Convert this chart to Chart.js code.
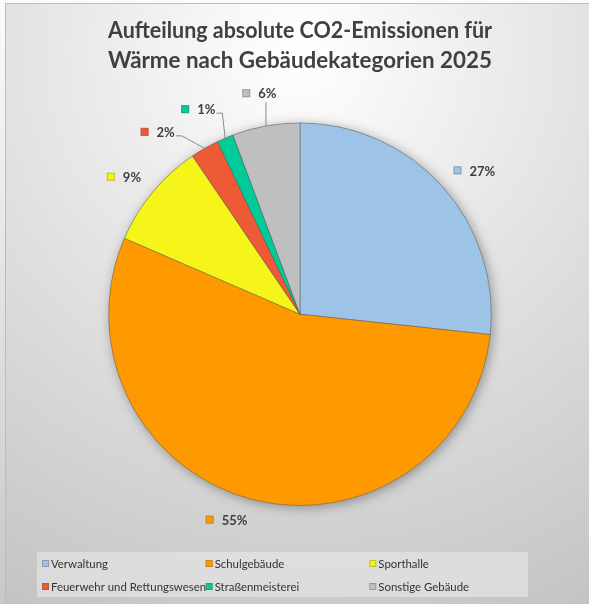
<!DOCTYPE html>
<html>
<head>
<meta charset="utf-8">
<script src="https://cdn.jsdelivr.net/npm/chart.js@4"></script>
<style>
  html, body { margin: 0; padding: 0; background: #fff; }
  #wrap { width: 589px; height: 604px; }
</style>
</head>
<body>
<div id="wrap"><canvas id="chart"></canvas></div>
<script>
const categories = ['Verwaltung', 'Schulgebäude', 'Sporthalle', 'Feuerwehr und Rettungswesen', 'Straßenmeisterei', 'Sonstige Gebäude'];
const shares = [26.7, 54.8, 9.0, 2.4, 1.4, 5.7];
const colors = ['#9dc3e6', '#ff9900', '#f5f519', '#ee5a35', '#00cc99', '#bfbfbf'];
const titleLines = ['Aufteilung absolute CO2-Emissionen für', 'Wärme nach Gebäudekategorien 2025'];

const textColor = '#404040';
const fontFamily = 'Lato';

// frame + gradient fill like the Excel chart area
const background = {
    id: 'background',
    beforeDraw(chart) {
        const {ctx, width, height} = chart;
        ctx.save();
        const outer = ctx.createLinearGradient(0, 0, 0, height);
        outer.addColorStop(0, '#fbfbfb');
        outer.addColorStop(1, '#c8c8c8');
        ctx.fillStyle = outer;
        ctx.fillRect(0, 0, width, height);
        const g = ctx.createRadialGradient(300, 50, 0, 300, 50, 640);
        g.addColorStop(0, '#ffffff');
        g.addColorStop(0.45, '#e3e3e3');
        g.addColorStop(1, '#c2c2c2');
        ctx.fillStyle = g;
        ctx.fillRect(6, 4, width - 6, height - 4);
        ctx.strokeStyle = '#bcbcbc';
        ctx.lineWidth = 1;
        ctx.strokeRect(5.5, 3.5, width, height);
        ctx.restore();
    }
};

// soft drop shadow under the pie
const pieShadow = {
    id: 'pieShadow',
    beforeDatasetsDraw(chart) {
        const arc = chart.getDatasetMeta(0).data[0];
        if (!arc) return;
        const ctx = chart.ctx;
        ctx.save();
        ctx.shadowColor = 'rgba(0,0,0,0.35)';
        ctx.shadowBlur = 12;
        ctx.shadowOffsetX = 2;
        ctx.shadowOffsetY = 2;
        ctx.beginPath();
        ctx.arc(arc.x, arc.y, arc.outerRadius, 0, Math.PI * 2);
        ctx.fillStyle = '#aaa';
        ctx.fill();
        ctx.restore();
    }
};

// outside labels: colour key + percent, leader lines for small slices
// the label box corner nearest the pie sits on the slice's middle ray
const sliceLabels = {
    id: 'sliceLabels',
    afterDatasetsDraw(chart, args, opts) {
        const ctx = chart.ctx;
        const meta = chart.getDatasetMeta(0);
        const values = chart.data.datasets[0].data;
        const total = values.reduce((a, b) => a + b, 0);
        ctx.save();
        ctx.font = 'bold 13px ' + fontFamily;
        ctx.textBaseline = 'middle';
        meta.data.forEach((arc, i) => {
            const pct = values[i] / total * 100;
            const text = Math.round(pct) + '%';
            const small = pct < 7;
            const mid = (arc.startAngle + arc.endAngle) / 2;
            const ang = mid + (opts.nudge[i] || 0) * Math.PI / 180;
            const r = arc.outerRadius;
            const tw = ctx.measureText(text).width;
            const key = 8, gapKey = 8;
            const bw = key + gapKey + tw, bh = 12;
            const dist = r + (small ? 25 : 15);
            const px = arc.x + dist * Math.cos(ang);
            const py = arc.y + dist * Math.sin(ang);
            const left = Math.cos(ang) >= 0 ? px : px - bw;
            const top = Math.sin(ang) >= 0 ? py : py - bh;
            const cy = top + bh / 2;

            if (small) {
                const tx = arc.x + r * Math.cos(mid);
                const ty = arc.y + r * Math.sin(mid);
                ctx.strokeStyle = '#8a8a8a';
                ctx.lineWidth = 1;
                ctx.beginPath();
                if (tx > left + key && tx < left + bw) {
                    ctx.moveTo(tx, top + bh + 3);
                    ctx.lineTo(tx, ty);
                } else {
                    const right = tx > left + bw;
                    const sx = right ? left + bw + 1 : left - 1;
                    const sy = cy + 4;
                    ctx.moveTo(sx, sy);
                    ctx.lineTo(sx + (right ? 6 : -6), sy);
                    ctx.lineTo(tx, ty);
                }
                ctx.stroke();
            }

            ctx.fillStyle = colors[i];
            ctx.fillRect(left, cy - key / 2, key, key);
            ctx.strokeStyle = 'rgba(90,90,90,0.35)';
            ctx.strokeRect(left + 0.5, cy - key / 2 + 0.5, key - 1, key - 1);
            ctx.fillStyle = textColor;
            ctx.textAlign = 'left';
            ctx.fillText(text, left + key + gapKey, cy + 1);
        });
        ctx.restore();
    }
};

// grid legend in a light box at the bottom
const boxLegend = {
    id: 'boxLegend',
    afterDraw(chart) {
        const ctx = chart.ctx;
        const x0 = 37, y0 = 552, w = 491, h = 45;
        ctx.save();
        ctx.fillStyle = 'rgba(235,235,235,0.55)';
        ctx.fillRect(x0, y0, w, h);
        ctx.font = '11.4px ' + fontFamily;
        ctx.textBaseline = 'middle';
        ctx.textAlign = 'left';
        chart.data.labels.forEach((label, i) => {
            const col = i % 3, row = Math.floor(i / 3);
            const x = x0 + 5 + col * w / 3;
            const y = y0 + 12 + row * 23;
            ctx.fillStyle = colors[i];
            ctx.fillRect(x, y - 4, 7, 7);
            ctx.strokeStyle = 'rgba(90,90,90,0.35)';
            ctx.lineWidth = 1;
            ctx.strokeRect(x + 0.5, y - 3.5, 6, 6);
            ctx.fillStyle = '#333333';
            ctx.fillText(label, x + 9, y);
        });
        ctx.restore();
    }
};

new Chart(document.getElementById('chart'), {
    type: 'pie',
    data: {
        labels: categories,
        datasets: [{
            data: shares,
            backgroundColor: colors,
            borderColor: 'rgba(80,80,80,0.45)',
            borderWidth: 1
        }]
    },
    options: {
        responsive: true,
        maintainAspectRatio: false,
        animation: false,
        layout: { padding: { left: 108, right: 97, top: 0, bottom: 98 } },
        plugins: {
            legend: { display: false },
            tooltip: { enabled: false },
            title: {
                display: true,
                text: titleLines,
                color: textColor,
                font: { family: fontFamily, size: 23.6, weight: 'bold', lineHeight: 1.28 },
                padding: { top: 15, bottom: 47 }
            },
            sliceLabels: { nudge: { 3: -5.5, 4: 0, 5: 4 } }
        }
    },
    plugins: [background, pieShadow, sliceLabels, boxLegend]
});
</script>
</body>
</html>
